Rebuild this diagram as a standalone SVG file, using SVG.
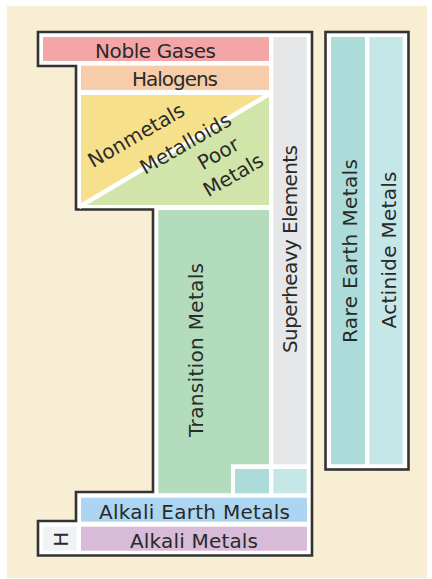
<svg xmlns="http://www.w3.org/2000/svg" width="432" height="579" viewBox="0 0 432 579">
<style>
.lbl{font-family:"DejaVu Sans","Liberation Sans",sans-serif;font-size:20px;fill:#2a2a2a;text-anchor:middle}
.dg{font-size:20px}
.frame{fill:#ffffff;stroke:#333333;stroke-width:2.6;stroke-linejoin:miter}
</style>
<rect x="0" y="0" width="432" height="579" fill="#ffffff"/>
<rect x="7" y="6" width="420" height="572" fill="#f7eed4"/>
<g id="frames">
<polygon class="frame" points="38,32 312,32 312,555.5 38,555.5 38,521 76,521 76,492 153,492 153,209.5 76,209.5 76,66 38,66"/>
<rect class="frame" x="325.5" y="32" width="83" height="437.5"/>
</g>
<g id="noble-gases">
<rect x="43" y="37" width="226" height="24" fill="#f4a6a6"/>
<text class="lbl" x="155.5" y="58" textLength="121">Noble Gases</text>
</g>
<g id="halogens">
<rect x="81" y="65.7" width="188" height="24.3" fill="#f6cda8"/>
<text class="lbl" x="175" y="86" textLength="86">Halogens</text>
</g>
<g id="poor-metals">
<rect x="81" y="95" width="188" height="110" fill="#d1e4aa"/>
</g>
<g id="nonmetals">
<polygon points="81,95 269,95 81,205" fill="#f6e08c"/>
</g>
<g id="metalloids">
<line x1="79" y1="207" x2="271" y2="93" stroke="#ffffff" stroke-width="4.5"/>
<text class="lbl dg" transform="translate(139.7,141.3) rotate(-30)">Nonmetals</text>
<text class="lbl dg" transform="translate(189,149.5) rotate(-30)">Metalloids</text>
<text class="lbl dg" transform="translate(221.7,159.5) rotate(-30)">Poor</text>
<text class="lbl dg" transform="translate(236.7,181) rotate(-30)">Metals</text>
</g>
<g id="transition-metals">
<polygon points="158.3,210 269,210 269,464.3 231,464.3 231,493.3 158.3,493.3" fill="#b3dcbc"/>
<text class="lbl" transform="translate(203.3,350) rotate(-90)" textLength="174">Transition Metals</text>
</g>
<g id="superheavy-elements">
<rect x="273.3" y="37" width="33.4" height="427.3" fill="#e6e7e9"/>
<text class="lbl" transform="translate(297,249) rotate(-90)" textLength="208">Superheavy Elements</text>
</g>
<g id="rare-earth-small">
<rect x="235" y="469" width="34" height="24.3" fill="#abdcd9"/>
</g>
<g id="actinide-small">
<rect x="273.3" y="469" width="33.4" height="24.3" fill="#c6e7e8"/>
</g>
<g id="alkali-earth-metals">
<rect x="81" y="497.7" width="226" height="24" fill="#acd5f1"/>
<text class="lbl" x="194.5" y="519" textLength="191">Alkali Earth Metals</text>
</g>
<g id="hydrogen">
<rect x="42.7" y="526.7" width="34" height="24" fill="#f1f2f4"/>
<text class="lbl" transform="translate(68,539.3) rotate(-90)">H</text>
</g>
<g id="alkali-metals">
<rect x="81" y="526.7" width="226" height="24" fill="#d8bad9"/>
<text class="lbl" x="194" y="547.5" textLength="128">Alkali Metals</text>
</g>
<g id="rare-earth-metals">
<rect x="331" y="37" width="34" height="427.3" fill="#abdcd9"/>
<text class="lbl" transform="translate(357.3,251) rotate(-90)" textLength="184">Rare Earth Metals</text>
</g>
<g id="actinide-metals">
<rect x="369.3" y="37" width="33.4" height="427.3" fill="#c6e7e8"/>
<text class="lbl" transform="translate(396,250) rotate(-90)" textLength="157">Actinide Metals</text>
</g>
</svg>
